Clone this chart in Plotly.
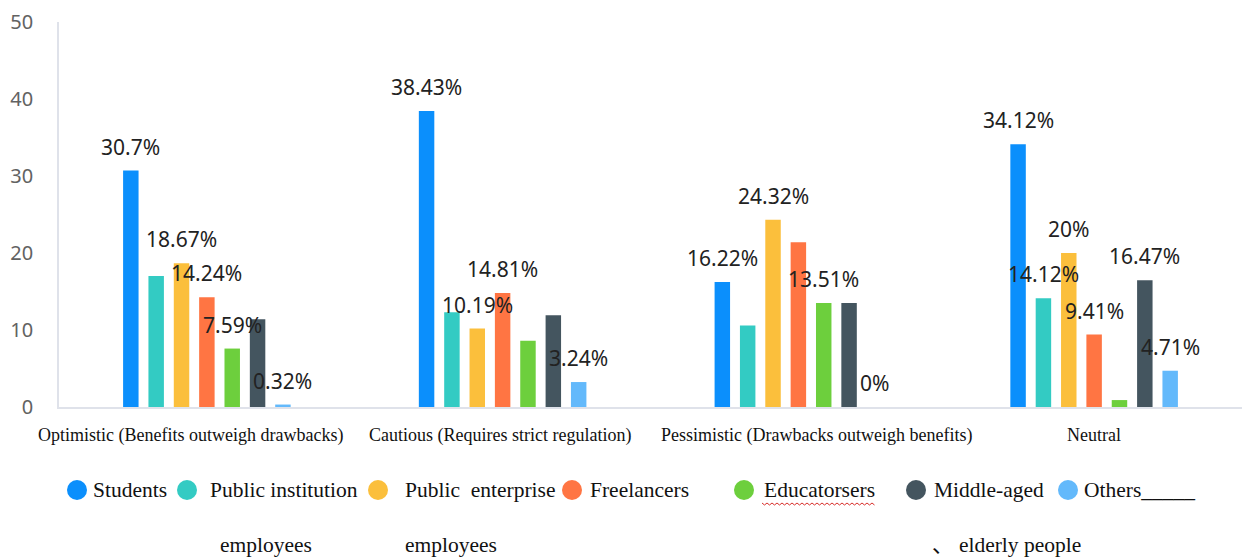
import plotly.graph_objects as go

# Attitude categories shown on the x axis
categories = [
    "Optimistic (Benefits outweigh drawbacks)",
    "Cautious (Requires strict regulation)",
    "Pessimistic (Drawbacks outweigh benefits)",
    "Neutral",
]

# Respondent groups (legend order) and their shares per category, in percent
groups = [
    "Students",
    "Public institution employees",
    "Public enterprise employees",
    "Freelancers",
    "Educatorsers",
    "Middle-aged elderly people",
    "Others",
]
students = [30.7, 38.43, 16.22, 34.12]
public_institution = [17.0, 12.3, 10.6, 14.12]
public_enterprise = [18.67, 10.19, 24.32, 20]
freelancers = [14.24, 14.81, 21.4, 9.41]
educators = [7.59, 8.6, 13.51, 0.9]
middle_aged = [11.4, 11.9, 13.51, 16.47]
others = [0.32, 3.24, 0, 4.71]
series_values = [students, public_institution, public_enterprise, freelancers,
                 educators, middle_aged, others]

# Which bars carry a percentage label
labelled = [
    [True, True, True, True],
    [False, False, False, True],
    [True, True, True, True],
    [True, True, False, True],
    [True, False, True, False],
    [False, False, False, True],
    [True, True, True, True],
]

y_ticks = [0, 10, 20, 30, 40, 50]

colors = ["#0b8ffc", "#33cbc3", "#fbbf3c", "#ff7543", "#6dcf3d", "#44555f", "#63b9fb"]

W, H = 1242, 557
M_L, M_R, M_T, M_B = 59, 0, 22, 150
BARGAP = 0.4
BARGROUPGAP = 0.39

fig = go.Figure()
for name, vals, col in zip(groups, series_values, colors):
    fig.add_trace(go.Bar(
        x=categories, y=vals, name=name, marker_color=col,
        marker_line_width=0, showlegend=False, hoverinfo="x+y+name",
    ))

# Percentage labels above the bars, placed at each bar's slot in its group
n = len(groups)
slot = (1 - BARGAP) / n
annotations = []
for j, vals in enumerate(series_values):
    for i, v in enumerate(vals):
        if not labelled[j][i]:
            continue
        annotations.append(dict(
            x=i - (1 - BARGAP) / 2 + (j + 0.5) * slot, y=v, xref="x", yref="y",
            text=f"{v:g}%", showarrow=False, yanchor="middle", yshift=24,
            font=dict(family="Noto Sans, Open Sans, sans-serif", size=21, color="#222222"),
        ))

plot_w = W - M_L - M_R
plot_h = H - M_T - M_B


def px_x(px):
    return (px - M_L) / plot_w


def px_y(py):
    return (H - M_B - py) / plot_h


serif = "Liberation Serif, Times New Roman, serif"

# Category captions under the axis
cat_centres = [190, 500, 816, 1094]
for label, cx in zip(categories, cat_centres):
    annotations.append(dict(
        x=px_x(cx), y=px_y(435), xref="paper", yref="paper", text=label,
        showarrow=False, xanchor="center", yanchor="middle",
        font=dict(family=serif, size=18, color="#111111"),
    ))

# Legend: coloured dots with serif captions
legend_rows = [
    (77, 91, 490, "Students"),
    (187, 208, 490, "Public institution"),
    (378, 403, 490, "Public  enterprise"),
    (572, 588, 490, "Freelancers"),
    (744, 762, 490, "Educatorsers"),
    (916, 932, 490, "Middle-aged"),
    (1068, 1082, 490, "Others_____"),
]
shapes = []
for (cx, tx, cy, text), col in zip(legend_rows, colors):
    shapes.append(dict(
        type="circle", xref="paper", yref="paper", xsizemode="pixel", ysizemode="pixel",
        xanchor=px_x(cx), yanchor=px_y(cy), x0=-10, x1=10, y0=-10, y1=10,
        fillcolor=col, line=dict(width=0),
    ))
    annotations.append(dict(
        x=px_x(tx), y=px_y(cy), xref="paper", yref="paper", text=text,
        showarrow=False, xanchor="left", yanchor="middle",
        font=dict(family=serif, size=21.5, color="#111111"),
    ))

# Second line of the wrapped legend captions
for tx, text in [(218, "employees"), (403, "employees"), (930, "、 elderly people")]:
    annotations.append(dict(
        x=px_x(tx), y=px_y(545), xref="paper", yref="paper", text=text,
        showarrow=False, xanchor="left", yanchor="middle",
        font=dict(family=serif + ", Noto Sans CJK SC", size=21.5, color="#111111"),
    ))

# Red spell-check squiggle under "Educatorsers"
zig = "M 0 0"
step = 2.5
k = 0
x = 0.0
while x < 111:
    x += step
    k += 1
    zig += f" L {x:.1f} {(-2 if k % 2 else 0)}"
shapes.append(dict(
    type="path", xref="paper", yref="paper", xsizemode="pixel", ysizemode="pixel",
    xanchor=px_x(762), yanchor=px_y(503), path=zig,
    line=dict(color="#d9302c", width=1),
))

fig.update_layout(
    width=W, height=H,
    margin=dict(l=M_L, r=M_R, t=M_T, b=M_B),
    barmode="group", bargap=BARGAP, bargroupgap=BARGROUPGAP,
    plot_bgcolor="white", paper_bgcolor="white",
    annotations=annotations, shapes=shapes, showlegend=False,
    xaxis=dict(
        type="category", range=[-0.5, 3.5], showticklabels=False, ticks="",
        showline=True, linecolor="#dfe2ea", linewidth=1.5, showgrid=False, zeroline=False,
    ),
    yaxis=dict(
        range=[0, 50], tickvals=y_ticks, ticks="", showgrid=False, zeroline=False,
        showline=True, linecolor="#dfe2ea", linewidth=1.5, ticklabelstandoff=20,
        tickfont=dict(family="Noto Sans, Open Sans, sans-serif", size=20, color="#626262"),
    ),
)

fig.write_html("out.html")
